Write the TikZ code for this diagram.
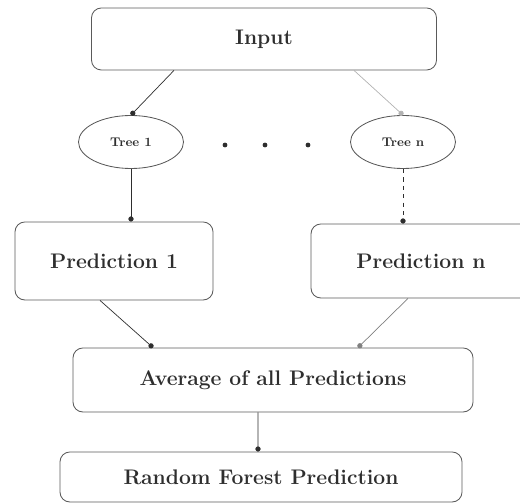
\documentclass[tikz,border=0pt]{standalone}
\usepackage{xcolor}
\definecolor{edgegray}{HTML}{5A5A5A}
\definecolor{inkgray}{HTML}{2E2E2E}
\usepackage{tikz}
\usetikzlibrary{arrows.meta,positioning,shapes.geometric}
\tikzset{rfbox/.style={draw=edgegray,rounded corners=7pt,fill=white,align=center,text=inkgray,line width=0.6pt,font=\fontsize{15}{17}\selectfont\bfseries},arr/.style={-{Circle[length=1.3mm]},draw=inkgray,line width=0.5pt}}

\begin{document}
\begin{tikzpicture}[x=0.025cm,y=-0.025cm,
treenode/.style={draw=edgegray,ellipse,minimum width=105*0.025cm,minimum height=53*0.025cm,font=\fontsize{9}{10}\selectfont\bfseries,text=inkgray,line width=0.6pt},
gap/.style={circle,fill=inkgray,inner sep=0pt,minimum size=1.2mm}]
\useasboundingbox (0,0) rectangle (520,503);
\node[rfbox,minimum width=345*0.025cm,minimum height=62*0.025cm] (inp) at (264,39) {Input};
\node[treenode] (t1) at (131,142) {Tree 1};\node[treenode] (tn) at (403,142) {Tree n};
\foreach \x/\n in {225/a,265/b,308/c}{\node[gap] (dot\n) at (\x,145) {};}
\node[rfbox,minimum width=198*0.025cm,minimum height=78*0.025cm] (p1) at (114,261) {Prediction 1};
\node[rfbox,minimum width=220*0.025cm,minimum height=74*0.025cm] (pn) at (421,261) {\raisebox{-5pt}{Prediction n}};
\node[rfbox,minimum width=400*0.025cm,minimum height=64*0.025cm] (avg) at (273,380) {Average of all Predictions};
\node[rfbox,minimum width=402*0.025cm,minimum height=50*0.025cm] (rf) at (261,477) {Random Forest Prediction};
\draw[arr] ([xshift=-2.25cm]inp.south) -- (t1.north);
\draw[arr,draw=gray!60] ([xshift=2.25cm]inp.south) -- (tn.north);
\draw[arr] (t1.south) -- (t1.south|-p1.north);
\draw[arr,dashed] (tn.south) -- (tn.south|-pn.north);
\draw[arr] ([xshift=-0.35cm]p1.south) -- ([xshift=-3cm]avg.north);
\draw[arr,draw=gray] ([xshift=-0.325cm]pn.south) -- ([xshift=2.125cm]avg.north);
\draw[arr] ([xshift=-0.375cm]avg.south) -- ([xshift=-0.075cm]rf.north);
\end{tikzpicture}
\end{document}
